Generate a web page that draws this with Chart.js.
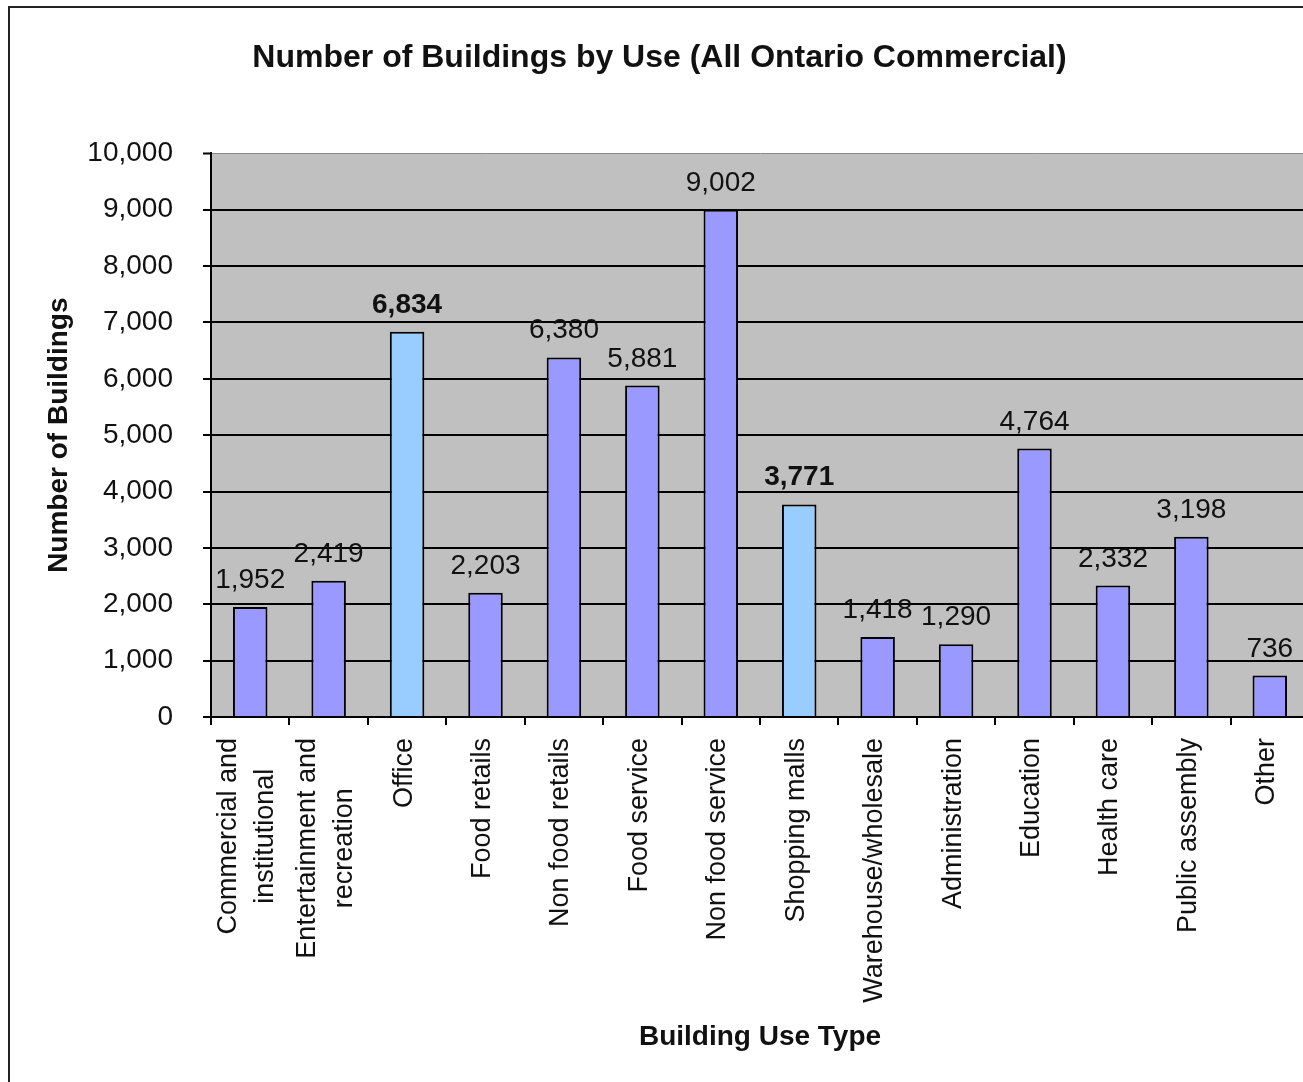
<!DOCTYPE html>
<html>
<head>
<meta charset="utf-8">
<script src="https://cdn.jsdelivr.net/npm/chart.js@4.4.1/dist/chart.umd.min.js"></script>
<style>
  html, body { margin: 0; padding: 0; background: #fff; overflow: hidden; width: 1303px; height: 1082px; }
  #frame { position: absolute; left: 8px; top: 6px; width: 1314px; height: 1100px; border: 2px solid #222; background: #fff; }
  canvas { display: block; }
</style>
</head>
<body>
<div id="frame"><canvas id="c" width="1314" height="1100"></canvas></div>
<script>
const FONT = '"Liberation Sans", Arial, Helvetica, sans-serif';

const categories = [
  ["Commercial and", "institutional"],
  ["Entertainment and", "recreation"],
  "Office",
  "Food retails",
  "Non food retails",
  "Food service",
  "Non food service",
  "Shopping malls",
  "Warehouse/wholesale",
  "Administration",
  "Education",
  "Health care",
  "Public assembly",
  "Other"
];
const buildings = [1952, 2419, 6834, 2203, 6380, 5881, 9002, 3771, 1418, 1290, 4764, 2332, 3198, 736];
const highlighted = ["Office", "Shopping malls"];
const yTicks = [0, 1000, 2000, 3000, 4000, 5000, 6000, 7000, 8000, 9000, 10000];

const chartTitle = "Number of Buildings by Use (All Ontario Commercial)";
const xTitle = "Building Use Type";
const yTitle = "Number of Buildings";

const isHi = i => highlighted.includes(Array.isArray(categories[i]) ? categories[i].join(" ") : categories[i]);
const fmt = v => v.toLocaleString("en-US");

const plotBg = {
  id: "plotBg",
  beforeDraw(chart) {
    const { ctx, chartArea: a } = chart;
    ctx.save();
    ctx.fillStyle = "#C0C0C0";
    ctx.fillRect(a.left, a.top, a.right - a.left, a.bottom - a.top);
    ctx.restore();
  }
};

const valueLabels = {
  id: "valueLabels",
  afterDatasetsDraw(chart) {
    const { ctx } = chart;
    const meta = chart.getDatasetMeta(0);
    ctx.save();
    ctx.fillStyle = "#111";
    ctx.textAlign = "center";
    ctx.textBaseline = "alphabetic";
    meta.data.forEach((bar, i) => {
      ctx.font = (isHi(i) ? "bold " : "") + "28px " + FONT;
      ctx.fillText(fmt(buildings[i]), bar.x, bar.y - 19);
    });
    ctx.restore();
  }
};

const catLabels = {
  id: "catLabels",
  afterDraw(chart) {
    const { ctx } = chart;
    const xs = chart.scales.x;
    ctx.save();
    ctx.font = "27px " + FONT;
    ctx.fillStyle = "#111";
    ctx.textAlign = "center";
    ctx.textBaseline = "middle";
    const lineStep = 37;
    categories.forEach((lab, i) => {
      const lines = Array.isArray(lab) ? lab : [lab];
      const cx = xs.getPixelForTick(i);
      const maxW = Math.max(...lines.map(l => ctx.measureText(l).width));
      const anchorY = xs.top + 21 + maxW / 2;
      lines.forEach((ln, j) => {
        const x = cx - 3 + (j - (lines.length - 1) / 2) * lineStep;
        ctx.save();
        ctx.translate(x, anchorY);
        ctx.rotate(-Math.PI / 2);
        ctx.fillText(ln, 0, 0);
        ctx.restore();
      });
    });
    ctx.restore();
  }
};

new Chart(document.getElementById("c"), {
  type: "bar",
  data: {
    labels: categories,
    datasets: [{
      data: buildings,
      backgroundColor: buildings.map((_, i) => isHi(i) ? "#99CCFF" : "#9999FF"),
      borderColor: "#000",
      borderWidth: 2,
      borderSkipped: "bottom",
      barPercentage: 0.44,
      categoryPercentage: 1.0
    }]
  },
  options: {
    responsive: false,
    animation: false,
    devicePixelRatio: 1,
    layout: { padding: { left: 0, right: 15, top: 0, bottom: 0 } },
    plugins: {
      legend: { display: false },
      tooltip: { enabled: false },
      title: {
        display: true,
        text: chartTitle,
        color: "#111",
        font: { family: FONT, size: 32, weight: "bold" },
        padding: { top: 31, bottom: 76 }
      }
    },
    scales: {
      x: {
        offset: true,
        grid: { offset: true, drawOnChartArea: false, drawTicks: true, tickLength: 8, color: "#000", lineWidth: 2 },
        border: { color: "#000", width: 2 },
        ticks: { display: false },
        title: {
          display: true,
          text: xTitle,
          color: "#111",
          font: { family: FONT, size: 28, weight: "bold" },
          padding: { top: 0, bottom: 54 }
        },
        afterFit(s) { s.height = 391; }
      },
      y: {
        min: 0,
        max: 10000,
        afterBuildTicks(s) { s.ticks = yTicks.map(v => ({ value: v })); },
        ticks: {
          callback: v => fmt(v),
          color: "#111",
          font: { family: FONT, size: 28 },
          padding: 30
        },
        grid: {
          color: c => (c.tick && c.tick.value === 10000) ? "#8a8a8a" : "#000",
          lineWidth: c => (c.tick && c.tick.value === 10000) ? 1 : 2,
          tickColor: "#000",
          tickWidth: 2,
          tickLength: 8
        },
        border: { color: "#000", width: 2 },
        title: {
          display: true,
          text: yTitle,
          color: "#111",
          font: { family: FONT, size: 28, weight: "bold" },
          padding: { top: 32, bottom: 0 }
        },
        afterFit(s) { s.width = 201; }
      }
    }
  },
  plugins: [plotBg, valueLabels, catLabels]
});
</script>
</body>
</html>
